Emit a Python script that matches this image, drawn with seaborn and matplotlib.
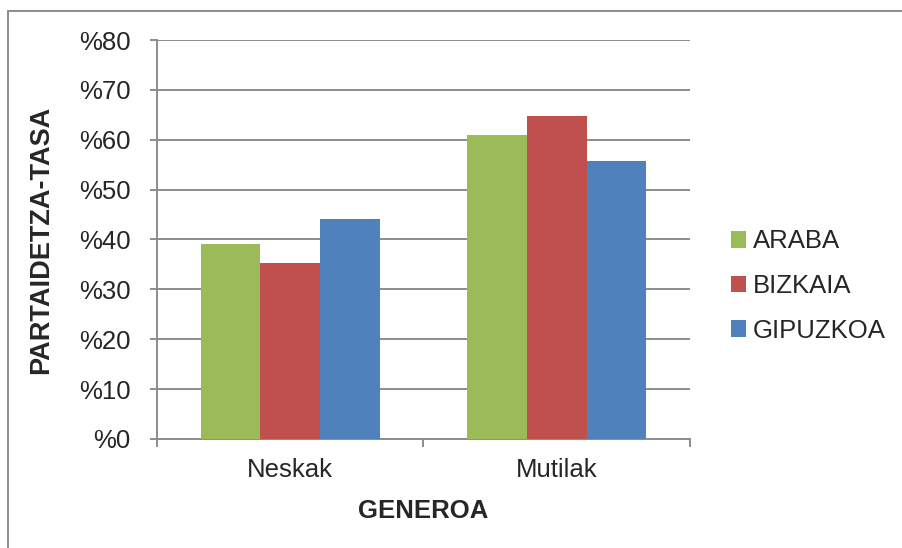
import pandas as pd
import numpy as np
import seaborn as sns
import matplotlib.pyplot as plt
from matplotlib.patches import Rectangle

# datuak
generoak = ["Neskak", "Mutilak"]
lurraldeak = ["ARABA", "BIZKAIA", "GIPUZKOA"]
araba = [39.0, 61.0]
bizkaia = [35.2, 64.8]
gipuzkoa = [44.1, 55.8]
koloreak = ["#9BBB59", "#C0504D", "#4F81BD"]
y_ticks = [0, 10, 20, 30, 40, 50, 60, 70, 80]

df = pd.DataFrame({
    "GENEROA": generoak * 3,
    "tasa": araba + bizkaia + gipuzkoa,
    "lurraldea": [l for l in lurraldeak for _ in generoak],
})

sns.set_style("white")
plt.rcParams["font.family"] = ["Liberation Sans", "DejaVu Sans"]

fig = plt.figure(figsize=(9.03, 5.48), dpi=100)
ax = fig.add_axes([157 / 903, 1 - 439 / 548, 533 / 903, 399 / 548])

sns.barplot(data=df, x="GENEROA", y="tasa", hue="lurraldea", palette=koloreak,
            width=0.67, saturation=1, linewidth=0, ax=ax, zorder=3)

gris = "#8C8C8C"
ax.set_ylim(0, 80)
ax.set_xlim(-0.5, 1.5)
ax.set_yticks(y_ticks)
ax.set_yticklabels([f"%{v}" for v in y_ticks])
ax.yaxis.grid(True, color=gris, linewidth=1.4, zorder=0)
ax.set_axisbelow(True)
for s in ["top", "right"]:
    ax.spines[s].set_visible(False)
for s in ["left", "bottom"]:
    ax.spines[s].set_color(gris)
    ax.spines[s].set_linewidth(1.4)

ax.tick_params(axis="y", which="major", length=5, width=1.4, color=gris,
               pad=14, labelsize=18.5, left=True)
ax.set_xticks([-0.5, 0.5, 1.5], minor=True)
ax.tick_params(axis="x", which="minor", length=6, width=1.4, color=gris, bottom=True)
ax.tick_params(axis="x", which="major", length=0, pad=14, labelsize=18.5)

ax.set_ylabel("PARTAIDETZA-TASA", fontsize=19.5, fontweight="bold", labelpad=18)
ax.set_xlabel("GENEROA", fontsize=18.5, fontweight="bold", labelpad=12)

ax.legend(loc="center left", bbox_to_anchor=(731 / 903, 1 - 286 / 548),
          bbox_transform=fig.transFigure, frameon=False, fontsize=18.5,
          handlelength=0.6, handleheight=0.6, handletextpad=0.25,
          labelspacing=0.8, borderpad=0, borderaxespad=0)

fig.patches.append(Rectangle((8 / 903, -0.1), 1.2, 1.1 - 11 / 548,
                             transform=fig.transFigure, fill=False,
                             edgecolor=gris, linewidth=1.4))

fig.savefig("out.png", dpi=100, facecolor="white")
